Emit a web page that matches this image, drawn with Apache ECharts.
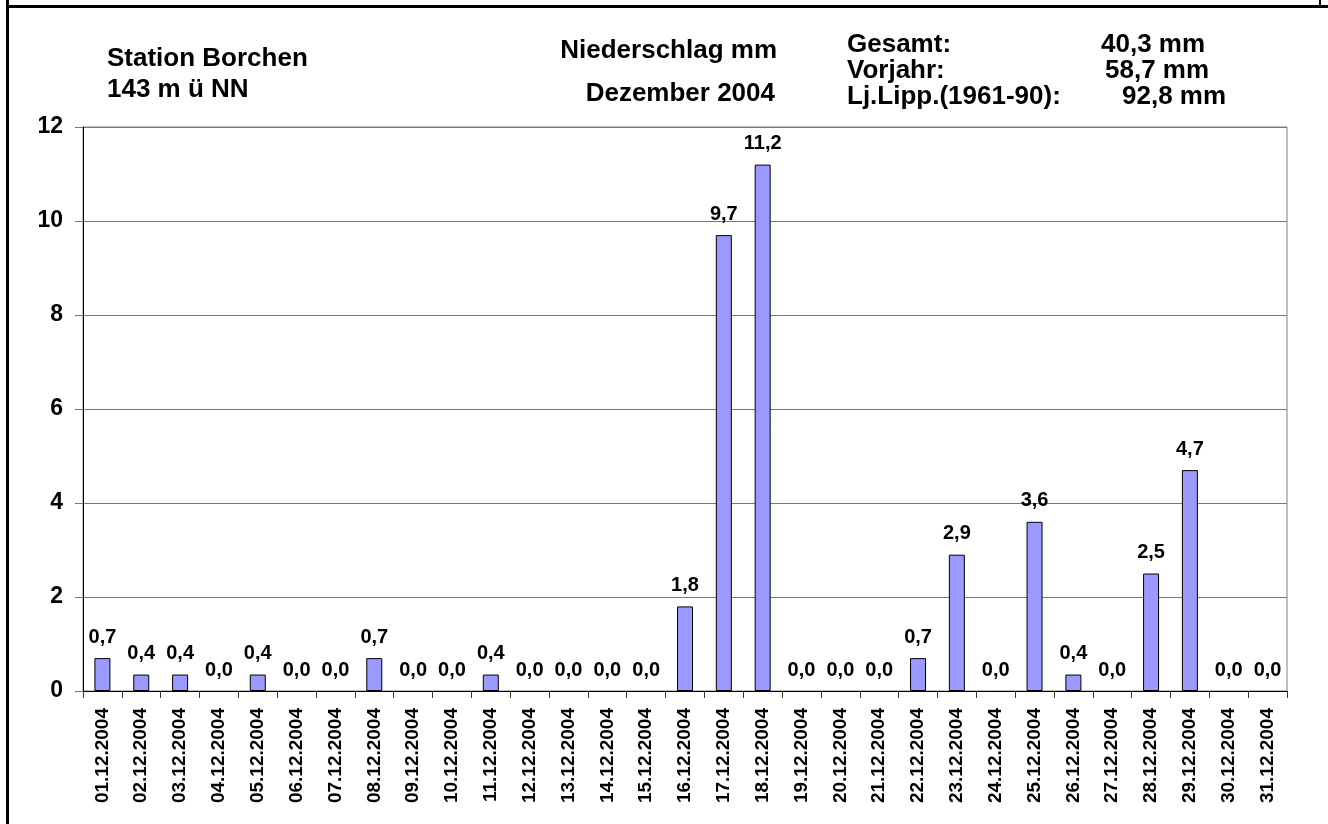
<!DOCTYPE html>
<html>
<head>
<meta charset="utf-8">
<script src="https://cdn.jsdelivr.net/npm/echarts@6/dist/echarts.min.js"></script>
<style>
  html, body { margin: 0; padding: 0; background: #fff; }
  #chart { width: 1328px; height: 824px; }
</style>
</head>
<body>
<div id="chart"></div>
<script>
// Tage im Dezember 2004
const days = [
  '01.12.2004', '02.12.2004', '03.12.2004', '04.12.2004', '05.12.2004', '06.12.2004',
  '07.12.2004', '08.12.2004', '09.12.2004', '10.12.2004', '11.12.2004', '12.12.2004',
  '13.12.2004', '14.12.2004', '15.12.2004', '16.12.2004', '17.12.2004', '18.12.2004',
  '19.12.2004', '20.12.2004', '21.12.2004', '22.12.2004', '23.12.2004', '24.12.2004',
  '25.12.2004', '26.12.2004', '27.12.2004', '28.12.2004', '29.12.2004', '30.12.2004',
  '31.12.2004'
]
// Niederschlag mm
const rain = [
  0.7, 0.35, 0.35, 0, 0.35, 0, 0, 0.7, 0, 0, 0.35, 0, 0, 0, 0, 1.8,
  9.7, 11.2, 0, 0, 0, 0.7, 2.9, 0, 3.6, 0.35, 0, 2.5, 4.7, 0, 0
]
const yTicks = [0, 2, 4, 6, 8, 10, 12]

const headLeft = ['Station Borchen', '143 m ü NN']
const headMid = ['Niederschlag mm', 'Dezember 2004']
const sumLabels = ['Gesamt:', 'Vorjahr:', 'Lj.Lipp.(1961-90):']
const sumValues = ['40,3 mm', '58,7 mm', '92,8 mm']

const font = 'Arial, "Liberation Sans", sans-serif'
const fmt = v => (Math.round(v * 10) / 10).toFixed(1).replace('.', ',')

const chart = echarts.init(document.getElementById('chart'))

function txt(text, x, y, align) {
  return {
    type: 'text',
    x: x,
    y: y,
    style: {
      text: text,
      fill: '#000',
      font: 'bold 26px ' + font,
      textAlign: align || 'left',
      textVerticalAlign: 'middle'
    }
  }
}

// Nullwerte ohne Rahmenstrich
const barData = rain.map(v => (v === 0 ? { value: v, itemStyle: { borderWidth: 0 } } : v))

const option = {
  animation: false,
  backgroundColor: '#fff',
  grid: {
    left: 83,
    right: 41,
    top: 127,
    bottom: 133,
    show: true,
    borderColor: '#808080',
    borderWidth: 1,
    backgroundColor: 'transparent'
  },
  xAxis: {
    type: 'category',
    data: days,
    axisLine: { lineStyle: { color: '#000', width: 1 } },
    axisTick: { show: true, length: 7, lineStyle: { color: '#333' } },
    axisLabel: {
      rotate: 90,
      interval: 0,
      margin: 17,
      color: '#000',
      fontWeight: 'bold',
      fontSize: 19,
      fontFamily: font
    }
  },
  yAxis: {
    type: 'value',
    min: 0,
    max: 12,
    interval: 2,
    axisLine: { show: true, lineStyle: { color: '#000', width: 1 } },
    axisTick: { show: true, length: 8, lineStyle: { color: '#777' } },
    splitLine: { lineStyle: { color: '#777', width: 1 } },
    axisLabel: {
      margin: 20,
      color: '#000',
      fontWeight: 'bold',
      fontSize: 23,
      fontFamily: font,
      formatter: v => (yTicks.includes(v) ? String(v) : '')
    }
  },
  series: [
    {
      type: 'bar',
      data: barData,
      barWidth: 16,
      itemStyle: {
        color: '#9999ff',
        borderColor: '#000',
        borderWidth: 1
      },
      label: {
        show: true,
        position: 'top',
        distance: 11,
        color: '#000',
        fontWeight: 'bold',
        fontSize: 20,
        fontFamily: font,
        formatter: p => fmt(p.value)
      }
    }
  ],
  graphic: [
    // Rahmen
    { type: 'rect', shape: { x: 6, y: 0, width: 3, height: 824 }, style: { fill: '#000' } },
    { type: 'rect', shape: { x: 6, y: 5, width: 1322, height: 3 }, style: { fill: '#000' } },
    { type: 'rect', shape: { x: 1319, y: 0, width: 2, height: 6 }, style: { fill: '#000' } },
    txt(headLeft[0], 107, 59),
    txt(headLeft[1], 107, 90),
    txt(headMid[0], 777, 51, 'right'),
    txt(headMid[1], 775, 94, 'right'),
    txt(sumLabels[0], 847, 45),
    txt(sumLabels[1], 847, 71),
    txt(sumLabels[2], 847, 97),
    txt(sumValues[0], 1101, 45),
    txt(sumValues[1], 1105, 71),
    txt(sumValues[2], 1122, 97)
  ]
}

chart.setOption(option)
</script>
</body>
</html>
